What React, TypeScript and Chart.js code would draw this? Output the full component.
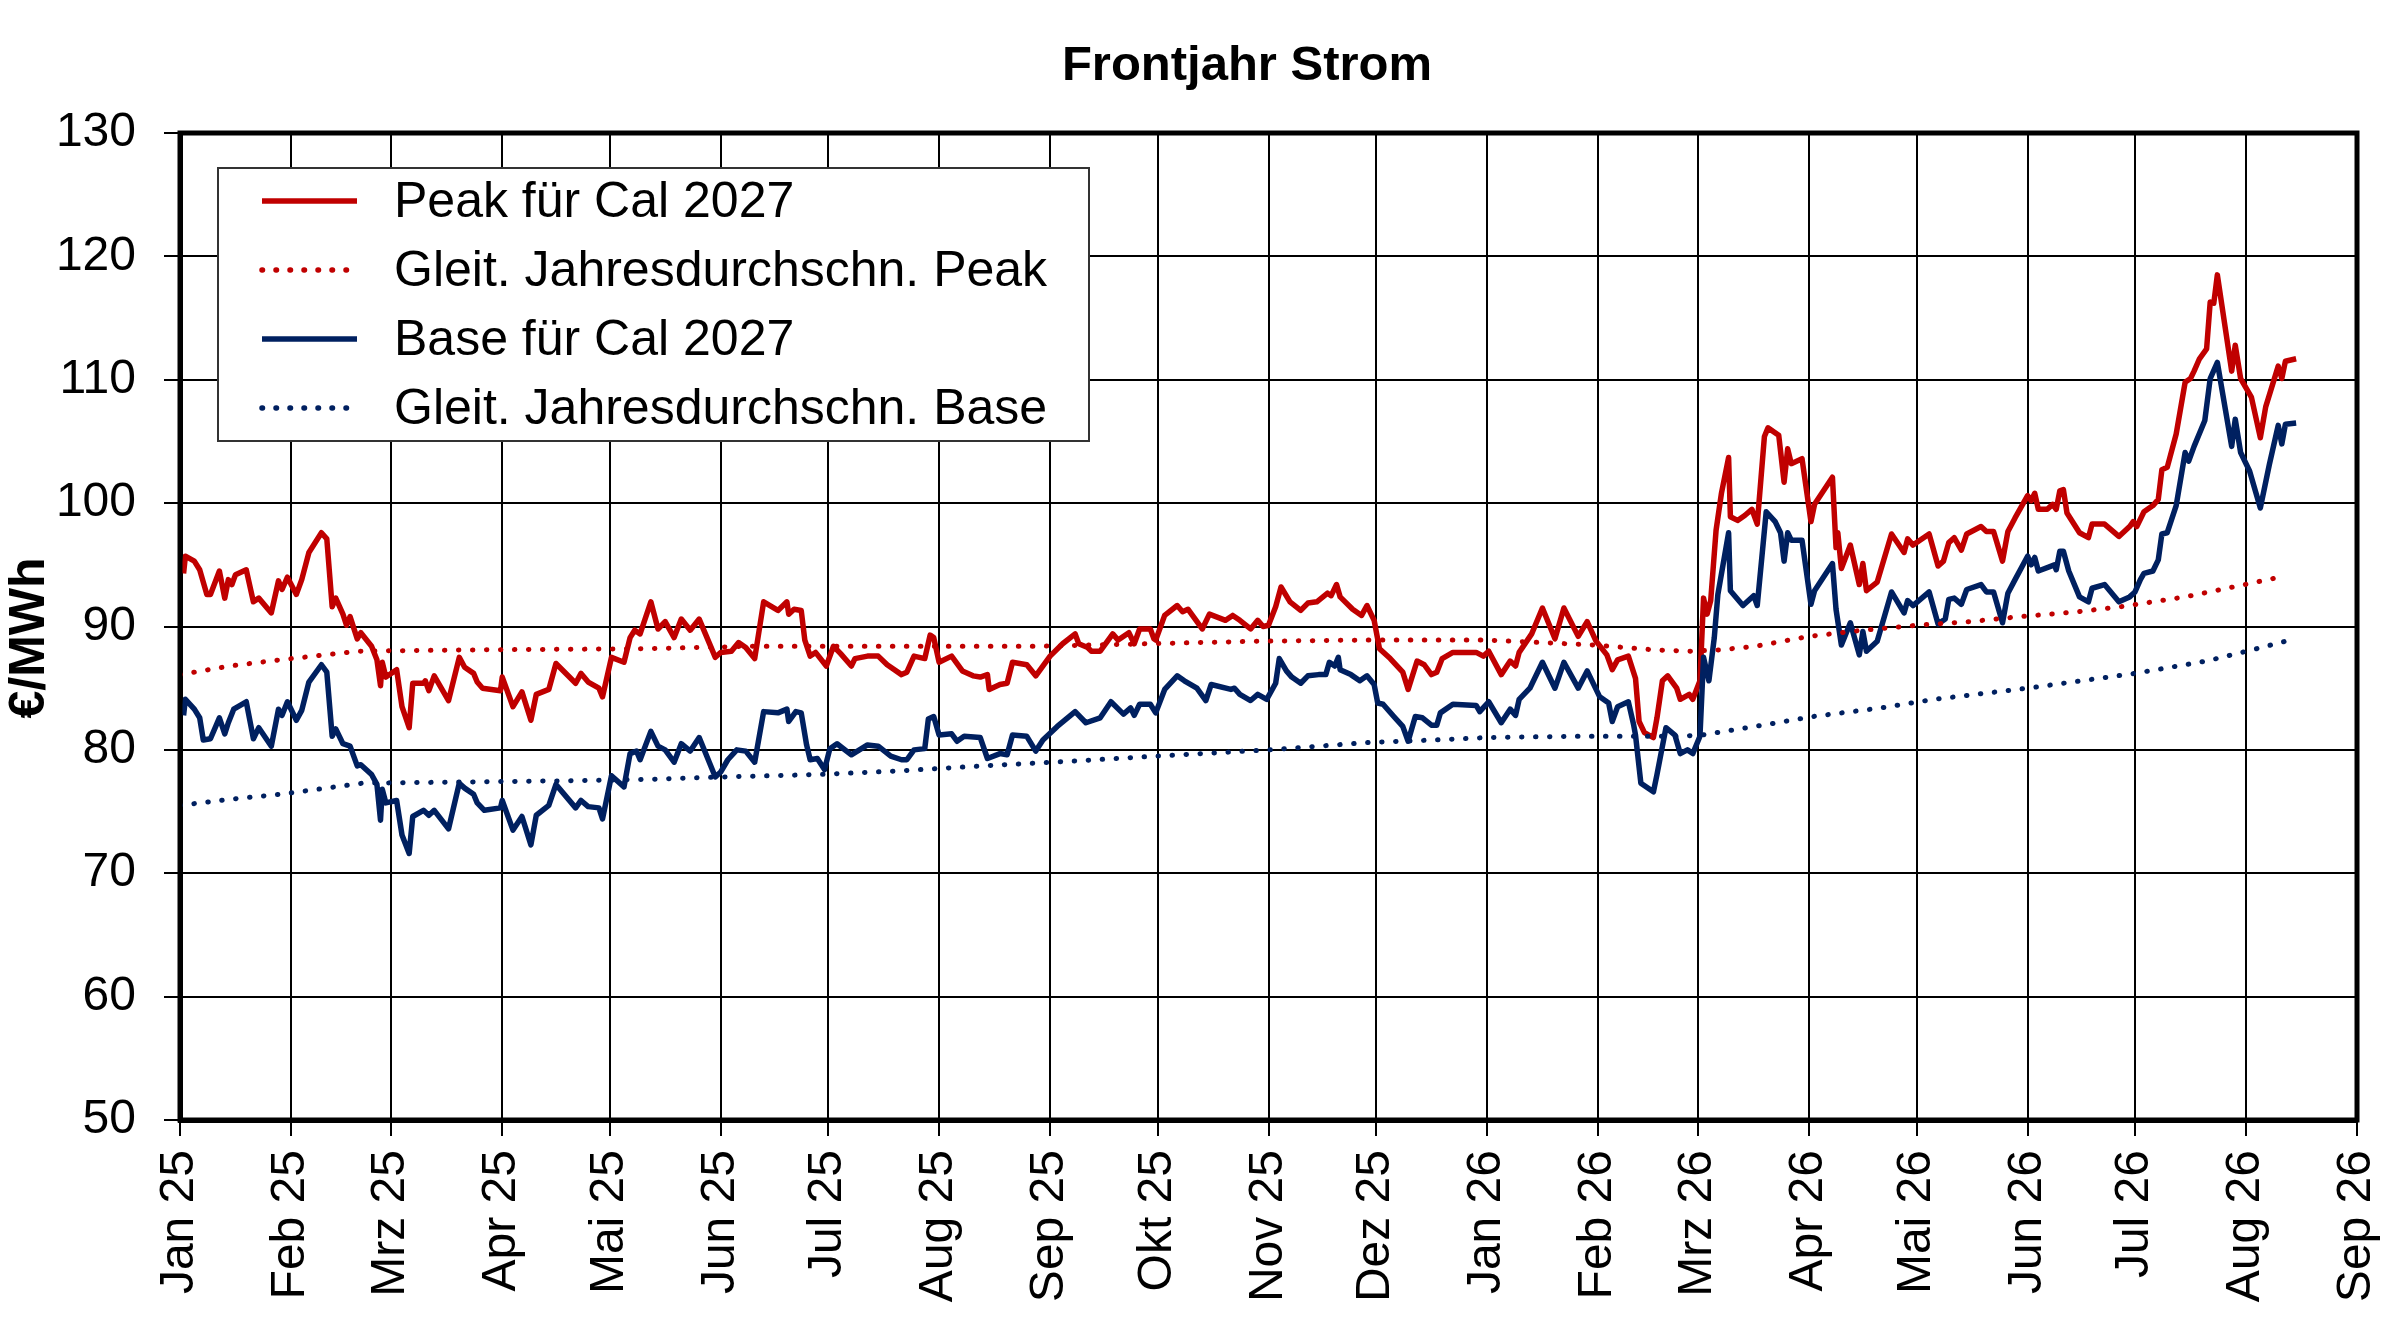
import { Chart, registerables } from "chart.js";
import { useEffect, useRef } from "react";

Chart.register(...registerables);

// x values are days since 1 Jan 2025
const monthLabels = [
    "Jan 25", "Feb 25", "Mrz 25", "Apr 25", "Mai 25", "Jun 25", "Jul 25", "Aug 25", "Sep 25", "Okt 25", "Nov 25", "Dez 25",
    "Jan 26", "Feb 26", "Mrz 26", "Apr 26", "Mai 26", "Jun 26", "Jul 26", "Aug 26", "Sep 26",
];

const peak: [number, number][] = [
    [1, 94.3], [1.5, 95.7], [4, 95.3], [5.5, 94.6], [7.5, 92.6], [8.5, 92.6], [11, 94.5], [12.5, 92.3], [13.5, 93.8], [14.5, 93.4],
    [15.5, 94.2], [18.5, 94.6], [20.5, 92.0], [22, 92.3], [25.5, 91.1], [27.5, 93.7], [28.5, 93.0], [30, 94.0], [32.5, 92.6], [34, 93.8],
    [36, 96.0], [39.5, 97.6], [41, 97.1], [42.5, 91.6], [43.5, 92.3], [45.5, 91.0], [46.5, 90.1], [47.5, 90.8], [49.5, 89.0], [50.5, 89.5],
    [53.5, 88.4], [55, 87.3], [56, 85.2], [56.5, 87.1], [57.5, 85.9], [60.5, 86.5], [62, 83.5], [64, 81.8], [65, 85.4], [68, 85.4],
    [68.5, 85.6], [69.5, 84.8], [71, 86.0], [75, 84.0], [78, 87.5], [79.5, 86.7], [82, 86.2], [83, 85.5], [84.5, 85.0], [89.5, 84.8],
    [90, 85.9], [93, 83.5], [95.5, 84.7], [98, 82.4], [99.5, 84.5], [103, 84.9], [105, 87.0], [110.5, 85.4], [112, 86.2], [114, 85.5],
    [117, 85.0], [118, 84.3], [120.5, 87.5], [124, 87.1], [125.7, 89.1], [127, 89.7], [128.5, 89.4], [131.5, 92.0], [133.5, 89.8], [135.5, 90.4],
    [138, 89.1], [140, 90.6], [142.5, 89.7], [145, 90.6], [149.5, 87.5], [151, 87.9], [154, 88.0], [156, 88.7], [158, 88.3], [160.5, 87.4],
    [163, 92.0], [167, 91.3], [169.5, 92.0], [170, 91.0], [171.5, 91.4], [173.5, 91.3], [174.5, 88.9], [176, 87.6], [177.5, 87.9], [180.5, 86.8],
    [182.5, 88.4], [184.5, 87.8], [187.5, 86.8], [188.5, 87.4], [192, 87.6], [195, 87.6], [197.5, 86.9], [201.5, 86.1], [203, 86.3], [205, 87.6],
    [208, 87.4], [209.5, 89.3], [210.5, 89.1], [212, 87.1], [215.5, 87.6], [218.5, 86.4], [221.5, 86.0], [223.5, 85.9], [225.5, 86.1], [226, 84.9],
    [229, 85.3], [231, 85.4], [232.5, 87.1], [236.5, 86.9], [239, 86.0], [243, 87.6], [246.5, 88.6], [250, 89.4], [251, 88.6], [253.5, 88.3],
    [254.5, 88.0], [257, 88.0], [260.5, 89.4], [262, 88.9], [265, 89.5], [266.5, 88.6], [268, 89.8], [271, 89.8], [272, 89.0], [272.5, 88.9],
    [275, 90.9], [278.5, 91.7], [280, 91.2], [281.5, 91.4], [285.5, 89.8], [287.5, 91.0], [292, 90.5], [294, 90.9], [296, 90.5], [299, 89.8],
    [301, 90.5], [302.5, 90.0], [304, 90.1], [306, 91.6], [307.5, 93.2], [310, 92.0], [313, 91.3], [315, 91.9], [317.5, 92.0], [320.5, 92.7],
    [321.5, 92.5], [323, 93.4], [324, 92.4], [327.5, 91.4], [330, 90.9], [331.5, 91.7], [333.5, 90.5], [335, 88.2], [338, 87.4], [341.5, 86.3],
    [343, 84.9], [345.5, 87.2], [347.5, 86.9], [349.5, 86.1], [351, 86.3], [352.5, 87.4], [355.5, 87.9], [362, 87.9], [364, 87.6], [365.5, 88.0],
    [369, 86.1], [371.5, 87.2], [373, 86.8], [374, 87.9], [377.5, 89.4], [380.5, 91.5], [384, 89.0], [386.5, 91.5], [390.5, 89.2], [393, 90.4],
    [395.5, 88.8], [398.5, 87.7], [400, 86.5], [401.5, 87.3], [404.5, 87.6], [406.5, 85.8], [407.5, 82.3], [409, 81.4], [411.5, 81.0], [412.5, 82.6],
    [414, 85.6], [415.5, 86.0], [418, 85.0], [419, 84.1], [421.5, 84.5], [422.5, 84.1], [424.5, 85.6], [425.5, 92.3], [426.5, 91.0], [427.5, 92.1],
    [429, 97.8], [430.5, 100.8], [432.5, 103.7], [433, 98.9], [435, 98.6], [437, 99.0], [439, 99.5], [440.5, 98.3], [442.5, 105.4], [443.5, 106.1],
    [446.5, 105.5], [448, 101.7], [449, 104.4], [450, 103.2], [453, 103.6], [455.5, 98.5], [456.5, 99.9], [461.5, 102.1], [462.5, 96.4], [463, 97.6],
    [464, 94.7], [466.5, 96.6], [469, 93.4], [470, 95.1], [471, 92.9], [474, 93.6], [478, 97.5], [481.5, 96.0], [482.5, 97.1], [484, 96.6],
    [488.5, 97.5], [491, 94.9], [492.5, 95.3], [494, 96.8], [495.5, 97.2], [497.5, 96.2], [499, 97.5], [503, 98.1], [504.5, 97.7], [506.5, 97.7],
    [509, 95.3], [510.5, 97.7], [512.5, 98.8], [516, 100.6], [517, 100.2], [518, 100.8], [519, 99.5], [521.5, 99.5], [523, 99.9], [524, 99.5],
    [525, 101.0], [526, 101.1], [527, 99.2], [530.5, 97.6], [533, 97.2], [534, 98.3], [537.5, 98.3], [541.5, 97.3], [544.5, 98.1], [545.5, 98.5],
    [546.5, 98.1], [548.5, 99.3], [551, 99.8], [552.5, 100.3], [553.5, 102.7], [555, 102.9], [557.5, 105.6], [560, 109.8], [561.5, 110.1], [562.5, 110.7],
    [564, 111.7], [566, 112.5], [567, 116.3], [568, 116.2], [569, 118.5], [573, 110.7], [574, 112.8], [575.5, 110.1], [578.5, 108.6], [581, 105.3],
    [582.5, 107.8], [586, 111.1], [587, 110.1], [588, 111.5], [591, 111.7],
];

const base: [number, number][] = [
    [1, 82.8], [1.5, 84.1], [4, 83.3], [5.5, 82.6], [6.5, 80.8], [8.5, 80.9], [11, 82.6], [12.5, 81.3], [13.5, 82.2], [15, 83.3],
    [18.5, 83.9], [20.5, 80.9], [22, 81.8], [25.5, 80.3], [27.5, 83.3], [28.5, 82.8], [30, 83.9], [32.5, 82.4], [34, 83.2], [36, 85.5],
    [39.5, 86.9], [41, 86.3], [42.5, 81.1], [43.5, 81.7], [45.5, 80.5], [47.5, 80.3], [49.5, 78.7], [50.5, 78.8], [53.5, 78.0], [55, 77.2],
    [56, 74.3], [56.5, 76.8], [57.5, 75.7], [60.5, 75.9], [62, 73.1], [64, 71.6], [65, 74.6], [68, 75.1], [69.5, 74.7], [71, 75.1],
    [75, 73.6], [78, 77.3], [79.5, 76.9], [82, 76.4], [83, 75.7], [85, 75.1], [89.5, 75.3], [90, 75.9], [93, 73.5], [95.5, 74.6],
    [98, 72.3], [99.5, 74.7], [103, 75.5], [105, 77.2], [110.5, 75.3], [112, 75.9], [114, 75.4], [117, 75.3], [118, 74.4], [120.5, 77.9],
    [124, 77.0], [125.7, 79.7], [127.5, 79.9], [128.5, 79.2], [131.5, 81.5], [133.5, 80.3], [135.5, 80.0], [138, 79.0], [140, 80.5], [142.5, 79.9],
    [145, 81.0], [149.5, 77.8], [151, 78.2], [153, 79.2], [155.5, 80.0], [158, 79.9], [160.5, 79.0], [163, 83.1], [167, 83.0], [169.5, 83.3],
    [170, 82.3], [172, 83.1], [173.5, 83.0], [175, 80.4], [176, 79.2], [178, 79.3], [180, 78.4], [181.5, 80.1], [183.5, 80.5], [187.5, 79.6],
    [192, 80.4], [195, 80.3], [198.5, 79.5], [201.5, 79.2], [203, 79.2], [205, 80.0], [208, 80.1], [209, 82.5], [210.5, 82.7], [212, 81.2],
    [215.5, 81.3], [217, 80.7], [219, 81.1], [223.5, 81.0], [225.5, 79.3], [229, 79.7], [231, 79.6], [232.5, 81.2], [236.5, 81.1], [239, 79.9],
    [241, 80.8], [245, 81.9], [250, 83.1], [253, 82.2], [257, 82.6], [260, 83.9], [263.5, 82.9], [265.5, 83.4], [266.5, 82.8], [268, 83.7],
    [271, 83.7], [272.5, 83.0], [275, 84.9], [278.5, 86.0], [280.5, 85.6], [284, 85.0], [286.5, 84.0], [288, 85.3], [293.5, 84.9], [294.5, 85.0],
    [296, 84.5], [299, 84.0], [301, 84.5], [303.5, 84.1], [306, 85.4], [307, 87.4], [309, 86.4], [310.5, 85.9], [313, 85.4], [315, 86.0],
    [318, 86.1], [320, 86.1], [321, 87.1], [322.5, 86.8], [323.5, 87.5], [324, 86.5], [327, 86.1], [329.5, 85.6], [331.5, 86.0], [333.5, 85.3],
    [334.5, 83.8], [336, 83.7], [339, 82.7], [341.5, 81.9], [343, 80.7], [345, 82.7], [347, 82.6], [349.5, 82.0], [351, 82.0], [352, 83.0],
    [355.5, 83.7], [362, 83.6], [363, 83.1], [365.5, 83.9], [369, 82.2], [371.5, 83.3], [373, 82.8], [374, 84.1], [377, 85.0], [380.5, 87.1],
    [384, 85.0], [386.5, 87.1], [390.5, 85.0], [393, 86.4], [396.5, 84.3], [399, 83.8], [400, 82.3], [401.5, 83.5], [404.5, 83.9], [406, 82.0],
    [406.5, 81.2], [408, 77.3], [411.5, 76.6], [412.5, 78.0], [415, 81.8], [417.5, 81.2], [419, 79.7], [421, 80.0], [422.5, 79.7], [424.5, 81.1],
    [425.5, 87.5], [427, 85.6], [428.5, 89.1], [429.5, 92.6], [432.5, 97.6], [433, 92.9], [436.5, 91.7], [439.5, 92.5], [440.5, 91.7], [443, 99.3],
    [445.5, 98.5], [447, 97.6], [448, 95.3], [449, 97.6], [450, 97.0], [453, 97.0], [455.5, 91.8], [456.5, 92.9], [461.5, 95.1], [462.5, 91.4],
    [464, 88.5], [466.5, 90.3], [469, 87.7], [470, 89.6], [471, 88.0], [474, 88.8], [478, 92.8], [481.5, 91.1], [482.5, 92.1], [484, 91.7],
    [488.5, 92.8], [491, 90.2], [493, 90.6], [494, 92.2], [495.5, 92.3], [497.5, 91.8], [499, 93.0], [503, 93.4], [504.5, 92.8], [506.5, 92.8],
    [509, 90.3], [510.5, 92.7], [512.5, 93.8], [516, 95.7], [517, 95.0], [518, 95.6], [519, 94.5], [523.5, 95.0], [524, 94.6], [525, 96.1],
    [526, 96.1], [527.5, 94.5], [530.5, 92.4], [533, 92.0], [534, 93.1], [537.5, 93.4], [541.5, 92.0], [544.5, 92.4], [546, 92.8], [547.5, 93.8],
    [548.5, 94.3], [551, 94.5], [552.5, 95.4], [553.5, 97.5], [555, 97.6], [557.5, 99.8], [560, 104.1], [561, 103.4], [562.5, 104.6], [565.5, 106.7],
    [567, 110.1], [569, 111.4], [573, 104.6], [574, 106.8], [575.5, 104.1], [578, 102.6], [581, 99.6], [583.5, 103.1], [586, 106.3], [587, 104.8],
    [588, 106.4], [591, 106.5],
];

const peakAvg: [number, number][] = [
    [0, 86.1], [14, 86.8], [28, 87.3], [50, 88.0], [80, 88.1], [130, 88.2], [160, 88.4], [240, 88.4], [270, 88.6], [300, 88.8],
    [330, 88.9], [365, 88.9], [380, 88.7], [395, 88.5], [412, 88.1], [422, 88.0], [430, 88.1], [440, 88.4], [455, 89.2], [470, 89.7],
    [485, 90.1], [500, 90.4], [514, 90.8], [530, 91.2], [542, 91.6], [560, 92.4], [575, 93.3], [588, 94.1],
];

const baseAvg: [number, number][] = [
    [0, 75.5], [14, 76.0], [28, 76.4], [51, 77.3], [80, 77.4], [110, 77.5], [130, 77.6], [151, 77.8], [178, 78.0], [201, 78.3],
    [224, 78.7], [250, 79.1], [273, 79.5], [304, 80.0], [332, 80.6], [350, 80.8], [365, 81.0], [390, 81.1], [418, 81.1], [425, 81.2],
    [442, 82.0], [456, 82.7], [475, 83.4], [490, 84.1], [516, 85.0], [546, 86.2], [566, 87.2], [580, 88.2], [588, 88.8],
];

const TITLE = "Frontjahr Strom";
const Y_TITLE = "€/MWh";
const RED = "#c00000";
const BLUE = "#002060";
const FONT = "'Liberation Sans', Arial, sans-serif";
const DOTS = [0.5, 13.5];

const DAY_MS = 86400000;
const monthDays = monthLabels.map((_, i) => (Date.UTC(2025, i, 1) - Date.UTC(2025, 0, 1)) / DAY_MS);

const toPoints = (arr: [number, number][]) => arr.map(([x, y]) => ({ x, y }));

const legendItems = [
    { text: "Peak für Cal 2027", color: RED, dash: [] as number[] },
    { text: "Gleit. Jahresdurchschn. Peak", color: RED, dash: DOTS },
    { text: "Base für Cal 2027", color: BLUE, dash: [] as number[] },
    { text: "Gleit. Jahresdurchschn. Base", color: BLUE, dash: DOTS },
];

// titles, thick frame round the plot and the legend box inside it
const framePlugin = {
    id: "frame",
    afterDatasetsDraw(chart: any) {
        const { ctx, chartArea: a } = chart;
        ctx.save();
        ctx.strokeStyle = "#000";
        ctx.lineWidth = 5;
        ctx.strokeRect(a.left, a.top, a.right - a.left, a.bottom - a.top);

        ctx.fillStyle = "#000";
        ctx.textAlign = "center";
        ctx.textBaseline = "middle";
        ctx.font = `bold 49px ${FONT}`;
        ctx.fillText(TITLE, 1247, 66);

        ctx.save();
        ctx.translate(30, 638);
        ctx.rotate(-Math.PI / 2);
        ctx.font = `bold 50px ${FONT}`;
        ctx.fillText(Y_TITLE, 0, 0);
        ctx.restore();

        const bx = a.left + 38;
        const by = a.top + 35;
        ctx.fillStyle = "#fff";
        ctx.fillRect(bx, by, 871, 273);
        ctx.lineWidth = 2;
        ctx.strokeStyle = "#333";
        ctx.strokeRect(bx, by, 871, 273);

        ctx.font = `50px ${FONT}`;
        ctx.textAlign = "left";
        legendItems.forEach((it, i) => {
            const y = by + 33 + i * 69;
            ctx.beginPath();
            ctx.setLineDash(it.dash);
            ctx.lineCap = it.dash.length ? "round" : "butt";
            ctx.lineWidth = 5.5;
            ctx.strokeStyle = it.color;
            ctx.moveTo(bx + 44, y);
            ctx.lineTo(bx + 139, y);
            ctx.stroke();
            ctx.setLineDash([]);
            ctx.fillStyle = "#000";
            ctx.fillText(it.text, bx + 176, y + 2);
        });
        ctx.restore();
    },
};

export default function App() {
    const canvasRef = useRef<HTMLCanvasElement>(null);

    useEffect(() => {
        document.body.style.margin = "0";
        if (!canvasRef.current) return;

        const tickFont = { family: FONT, size: 48 };
        const chart = new Chart(canvasRef.current, {
            type: "line",
            data: {
                datasets: [
                    { label: "Gleit. Jahresdurchschn. Base", data: toPoints(baseAvg), borderColor: BLUE, borderWidth: 5, borderDash: DOTS, borderCapStyle: "round" },
                    { label: "Gleit. Jahresdurchschn. Peak", data: toPoints(peakAvg), borderColor: RED, borderWidth: 5, borderDash: DOTS, borderCapStyle: "round" },
                    { label: "Base für Cal 2027", data: toPoints(base), borderColor: BLUE, borderWidth: 5.5, borderJoinStyle: "round" },
                    { label: "Peak für Cal 2027", data: toPoints(peak), borderColor: RED, borderWidth: 5.5, borderJoinStyle: "round" },
                ],
            },
            options: {
                animation: false,
                responsive: false,
                devicePixelRatio: 1,
                parsing: false,
                elements: { point: { radius: 0 }, line: { tension: 0 } },
                layout: { padding: { left: 0, right: 43, top: 133, bottom: 0 } },
                plugins: {
                    legend: { display: false },
                    tooltip: { enabled: false },
                    title: { display: false },
                },
                scales: {
                    x: {
                        type: "linear",
                        min: 0,
                        max: 608,
                        afterBuildTicks: (scale: any) => {
                            scale.ticks = monthDays.map(v => ({ value: v }));
                        },
                        afterFit: (scale: any) => {
                            scale.height = 220;
                            scale.paddingLeft = 0;
                            scale.paddingRight = 0;
                        },
                        ticks: {
                            autoSkip: false,
                            maxRotation: 90,
                            minRotation: 90,
                            padding: 14,
                            color: "#000",
                            font: tickFont,
                            callback: (_v: any, i: number) => monthLabels[i],
                        },
                        grid: { color: "#000", lineWidth: 2, tickLength: 16 },
                        border: { color: "#000", width: 5 },
                    },
                    y: {
                        min: 50,
                        max: 130,
                        afterFit: (scale: any) => {
                            scale.width = 180;
                            scale.paddingTop = 0;
                            scale.paddingBottom = 0;
                        },
                        ticks: { stepSize: 10, padding: 28, color: "#000", font: tickFont },
                        grid: { color: "#000", lineWidth: 2, tickLength: 16 },
                        border: { color: "#000", width: 5 },
                    },
                },
            },
            plugins: [framePlugin],
        } as any);

        return () => chart.destroy();
    }, []);

    return (
        <div style={{ width: 2400, height: 1340, background: "#fff" }}>
            <canvas ref={canvasRef} width={2400} height={1340} style={{ display: "block" }} />
        </div>
    );
}
